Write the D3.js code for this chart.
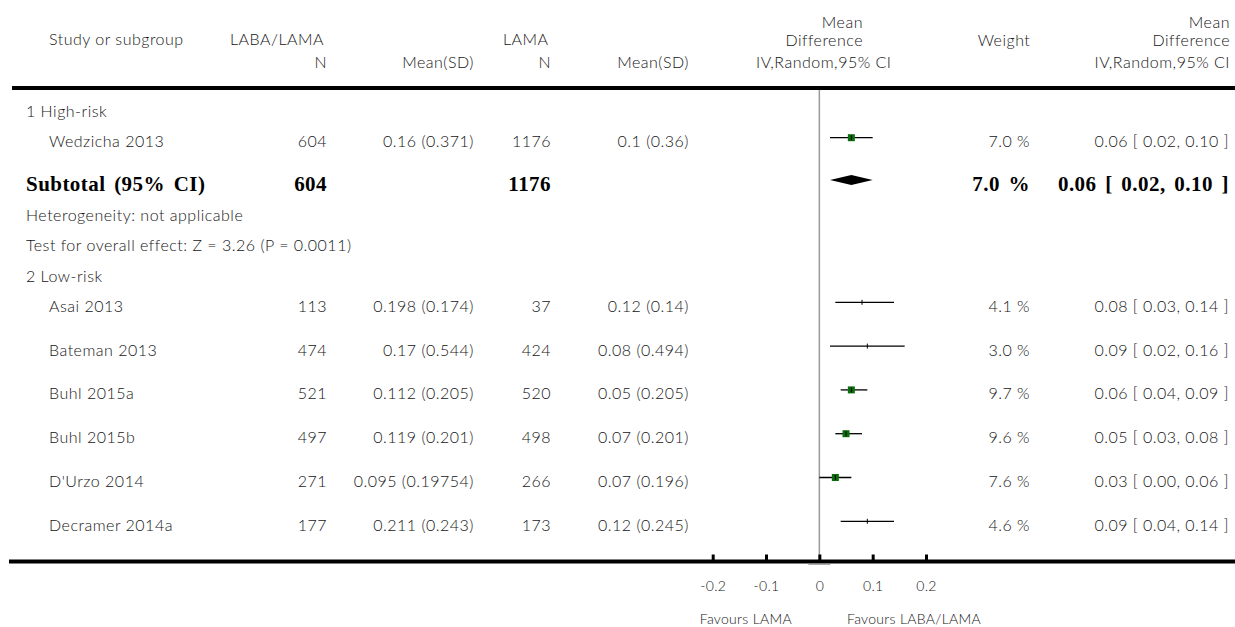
<!DOCTYPE html>
<html><head><meta charset="utf-8">
<script src="https://cdn.jsdelivr.net/npm/d3@7/dist/d3.min.js"></script>
<style>
body{margin:0;background:#fff}
svg{display:block}
text{font-family:Lato,"Open Sans",sans-serif;font-weight:300;fill:#151515;font-size:16px;letter-spacing:0.5px}
.b{font-family:"Liberation Serif","Times New Roman",serif;font-weight:bold;font-size:21px;fill:#000;letter-spacing:0.45px;word-spacing:3px}
.ax{font-size:14px;letter-spacing:0.3px}
</style>
</head><body><svg id="c" width="1235" height="627"></svg>
<script>
// ---- data ----
const groupLabels = ["1 High-risk", "2 Low-risk"];
const studies = ["Wedzicha 2013","Asai 2013","Bateman 2013","Buhl 2015a","Buhl 2015b","D'Urzo 2014","Decramer 2014a"];
const studyGroup = [0,1,1,1,1,1,1];
const n1 = [604,113,474,521,497,271,177];
const mean1 = ["0.16","0.198","0.17","0.112","0.119","0.095","0.211"];
const sd1 = ["0.371","0.174","0.544","0.205","0.201","0.19754","0.243"];
const n2 = [1176,37,424,520,498,266,173];
const mean2 = ["0.1","0.12","0.08","0.05","0.07","0.07","0.12"];
const sd2 = ["0.36","0.14","0.494","0.205","0.201","0.196","0.245"];
const md = [0.06,0.08,0.09,0.06,0.05,0.03,0.09];
const ciLow = [0.02,0.03,0.02,0.04,0.03,0.00,0.04];
const ciHigh = [0.10,0.14,0.16,0.09,0.08,0.06,0.14];
const weight = [7.0,4.1,3.0,9.7,9.6,7.6,4.6];
// subtotal of group 1
const subN1 = [604], subN2 = [1176], subMd = [0.06], subLow = [0.02], subHigh = [0.10], subWeight = [7.0];
const hetText = ["Heterogeneity: not applicable"];
const testText = ["Test for overall effect: Z = 3.26 (P = 0.0011)"];
const tickValues = [-0.2,-0.1,0,0.1,0.2];
const tickLabels = ["-0.2","-0.1","0","0.1","0.2"];
const favours = ["Favours LAMA","Favours LABA/LAMA"];

// ---- layout ----
const svg = d3.select("#c");
const W = 1235;
const x = d3.scaleLinear().domain([-0.2,0.2]).range([712.7,926]);
const col = {name:49, head:26, n1:327, m1:474, n2:551, m2:689, w:1030, ci:1229};
const boxSize = d3.scaleThreshold().domain([5]).range([0,7]);
const f2 = d3.format(".2f"), f1 = d3.format(".1f");

// header
const hdr = svg.append("g");
function T(g, xx, yy, s, anchor, cls){ return g.append("text").attr("x",xx).attr("y",yy).attr("text-anchor",anchor||"start").attr("class",cls||null).text(s); }
T(hdr,49,45,"Study or subgroup");
T(hdr,230,45,"LABA/LAMA");
T(hdr,col.n1,68,"N","end");
T(hdr,col.m1,68,"Mean(SD)","end");
T(hdr,503,45,"LAMA");
T(hdr,col.n2,68,"N","end");
T(hdr,col.m2,68,"Mean(SD)","end");
T(hdr,863,28,"Mean","end");
T(hdr,863,46,"Difference","end");
T(hdr,756,68,"IV,Random,95% CI");
T(hdr,1004,46,"Weight","middle");
T(hdr,1230,28,"Mean","end");
T(hdr,1230,46,"Difference","end");
T(hdr,1230,68,"IV,Random,95% CI","end");
svg.append("line").attr("x1",12).attr("x2",W).attr("y1",88).attr("y2",88).attr("stroke","#000").attr("stroke-width",4);

// rows
const rows = [];
groupLabels.forEach((g,gi)=>{
  rows.push({type:"group",label:g});
  studies.forEach((s,i)=>{ if(studyGroup[i]===gi) rows.push({type:"study",i}); });
  if(gi===0){
    rows.push({type:"sub",j:0});
    rows.push({type:"note",label:hetText[0]});
    rows.push({type:"note",label:testText[0]});
  }
});
let yb = 117, prevData=false;
rows.forEach((r,k)=>{
  const isData = r.type==="study"||r.type==="sub";
  if(k>0) yb += (isData&&prevData)?43.8:30.2;
  r.y = yb; prevData = isData;
});

// zero line
svg.append("line").attr("x1",x(0)).attr("x2",x(0)).attr("y1",90).attr("y2",560).attr("stroke","#9a9a9a").attr("stroke-width",1.5);

const body = svg.append("g");
rows.forEach(r=>{
  if(r.type==="group"||r.type==="note"){ T(body,col.head,r.y,r.label); }
  else if(r.type==="study"){
    const i=r.i, ly=r.y-9.5;
    T(body,col.name,r.y,studies[i]);
    T(body,col.n1,r.y,n1[i],"end");
    T(body,col.m1,r.y,`${mean1[i]} (${sd1[i]})`,"end");
    T(body,col.n2,r.y,n2[i],"end");
    T(body,col.m2,r.y,`${mean2[i]} (${sd2[i]})`,"end");
    T(body,col.w,r.y,`${f1(weight[i])} %`,"end");
    T(body,col.ci,r.y,`${f2(md[i])} [ ${f2(ciLow[i])}, ${f2(ciHigh[i])} ]`,"end");
    body.append("line").attr("x1",x(ciLow[i])).attr("x2",x(ciHigh[i])).attr("y1",ly).attr("y2",ly).attr("stroke","#000").attr("stroke-width",1.3);
    const s=boxSize(weight[i]);
    if(s>0) body.append("rect").attr("x",x(md[i])-s/2).attr("y",ly-s/2).attr("width",s).attr("height",s).attr("fill","#0a6e0a");
    body.append("line").attr("x1",x(md[i])).attr("x2",x(md[i])).attr("y1",ly-2.5).attr("y2",ly+2.5).attr("stroke","#000").attr("stroke-width",1);
  } else if(r.type==="sub"){
    const j=r.j, dy=r.y-11;
    T(body,col.head,r.y,"Subtotal (95% CI)","start","b");
    T(body,col.n1,r.y,subN1[j],"end","b");
    T(body,col.n2,r.y,subN2[j],"end","b");
    T(body,col.w,r.y,`${f1(subWeight[j])} %`,"end","b");
    T(body,col.ci,r.y,`${f2(subMd[j])} [ ${f2(subLow[j])}, ${f2(subHigh[j])} ]`,"end","b");
    const pts=[[x(subLow[j]),dy],[x(subMd[j]),dy-5],[x(subHigh[j]),dy],[x(subMd[j]),dy+5]];
    body.append("path").attr("d",d3.line()(pts)+"Z").attr("fill","#000");
  }
});

// axis
const axY = 561.5;
svg.append("line").attr("x1",9).attr("x2",W).attr("y1",axY).attr("y2",axY).attr("stroke","#000").attr("stroke-width",4);
svg.append("line").attr("x1",x(0)-11).attr("x2",x(0)+11).attr("y1",axY+3).attr("y2",axY+3).attr("stroke","#aaa").attr("stroke-width",1);
const ax = svg.append("g").attr("transform",`translate(0,${axY})`)
  .call(d3.axisTop(x).tickValues(tickValues).tickSize(7).tickFormat(""));
ax.select(".domain").remove();
ax.selectAll(".tick line").attr("stroke","#000").attr("stroke-width",3);
const axl = svg.append("g").attr("transform",`translate(0,${axY})`)
  .call(d3.axisBottom(x).tickValues(tickValues).tickSize(0).tickPadding(20).tickFormat((d,i)=>tickLabels[i]));
axl.select(".domain").remove();
axl.selectAll(".tick text").attr("font-family",null).attr("font-size",null).attr("fill",null).attr("class","ax");
T(svg,792,624,favours[0],"end","ax");
T(svg,847,624,favours[1],"start","ax");
</script>
</body></html>
